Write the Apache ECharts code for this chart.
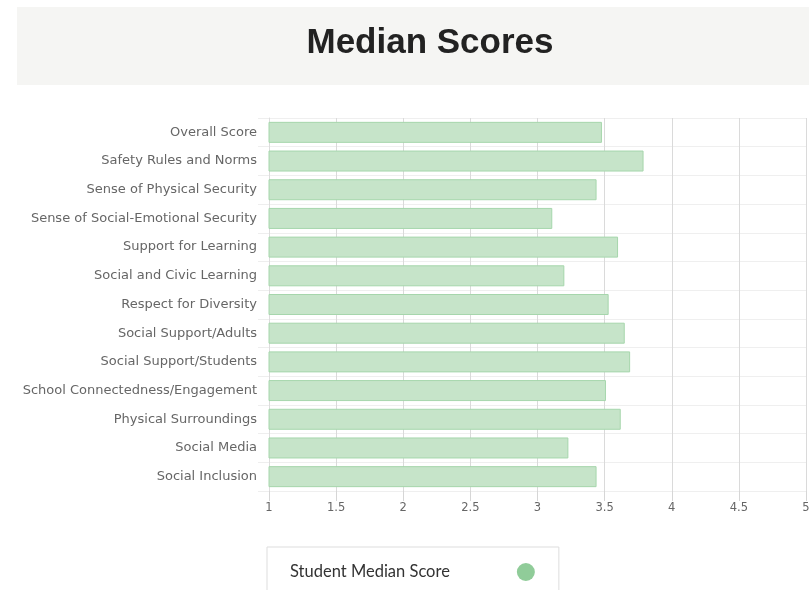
<!DOCTYPE html>
<html>
<head>
<meta charset="utf-8">
<script src="https://cdn.jsdelivr.net/npm/echarts@6/dist/echarts.min.js"></script>
<style>
html,body{margin:0;padding:0;background:#fff;}
#chart{width:809px;height:590px;}
</style>
</head>
<body>
<div id="chart"></div>
<script>
var categories = [
  "Overall Score",
  "Safety Rules and Norms",
  "Sense of Physical Security",
  "Sense of Social-Emotional Security",
  "Support for Learning",
  "Social and Civic Learning",
  "Respect for Diversity",
  "Social Support/Adults",
  "Social Support/Students",
  "School Connectedness/Engagement",
  "Physical Surroundings",
  "Social Media",
  "Social Inclusion"
];
var studentMedian = [3.48, 3.79, 3.44, 3.11, 3.60, 3.20, 3.53, 3.65, 3.69, 3.51, 3.62, 3.23, 3.44];
var seriesName = "Student Median Score";
var chartTitle = "Median Scores";

var chart = echarts.init(document.getElementById('chart'));
chart.setOption({
  backgroundColor: '#ffffff',
  animation: false,
  graphic: [
    {
      type: 'rect',
      shape: {x: 17, y: 7, width: 800, height: 78},
      style: {fill: '#f5f5f3'},
      z: -10
    },
    {
      type: 'text',
      x: 430, y: 43,
      style: {
        text: chartTitle,
        fill: '#222222',
        font: 'bold 35px "Liberation Sans", Arial, sans-serif',
        textAlign: 'center',
        textVerticalAlign: 'middle'
      }
    }
  ],
  legend: {
    left: 267,
    top: 547,
    orient: 'horizontal',
    align: 'right',
    padding: [16, 24, 16, 23],
    borderColor: '#dddddd',
    borderWidth: 1,
    itemWidth: 18,
    itemHeight: 18,
    textStyle: {
      fontFamily: 'Lato, "Open Sans", sans-serif',
      fontSize: 16.5,
      color: '#333333',
      padding: [0, 62, 0, 0]
    },
    data: [{name: seriesName, icon: 'circle', itemStyle: {color: '#90cc99', borderWidth: 0}}]
  },
  grid: {
    left: 269,
    right: 3,
    top: 118,
    bottom: 99,
    containLabel: false,
    outerBoundsMode: 'none'
  },
  xAxis: {
    type: 'value',
    min: 1,
    max: 5,
    interval: 0.5,
    axisLine: {show: false},
    axisTick: {show: true, length: 10, lineStyle: {color: '#d6d6d6'}},
    splitLine: {show: true, lineStyle: {color: '#dadada'}},
    axisLabel: {
      margin: 11,
      color: '#666666',
      fontFamily: '"DejaVu Sans", sans-serif',
      fontSize: 11.5
    }
  },
  yAxis: {
    type: 'category',
    data: categories,
    inverse: true,
    axisLine: {show: true, lineStyle: {color: '#dddddd'}},
    axisTick: {show: true, length: 11, lineStyle: {color: '#eeeeee'}},
    splitLine: {show: true, lineStyle: {color: '#efefef'}},
    axisLabel: {
      margin: 12,
      color: '#666666',
      fontFamily: '"DejaVu Sans", sans-serif',
      fontSize: 13,
      padding: [2, 0, 0, 0]
    }
  },
  series: [{
    name: seriesName,
    type: 'bar',
    data: studentMedian,
    barWidth: 21,
    itemStyle: {
      color: '#c6e4c9',
      borderColor: '#a6d6ac',
      borderWidth: 1
    }
  }]
});
</script>
</body>
</html>
